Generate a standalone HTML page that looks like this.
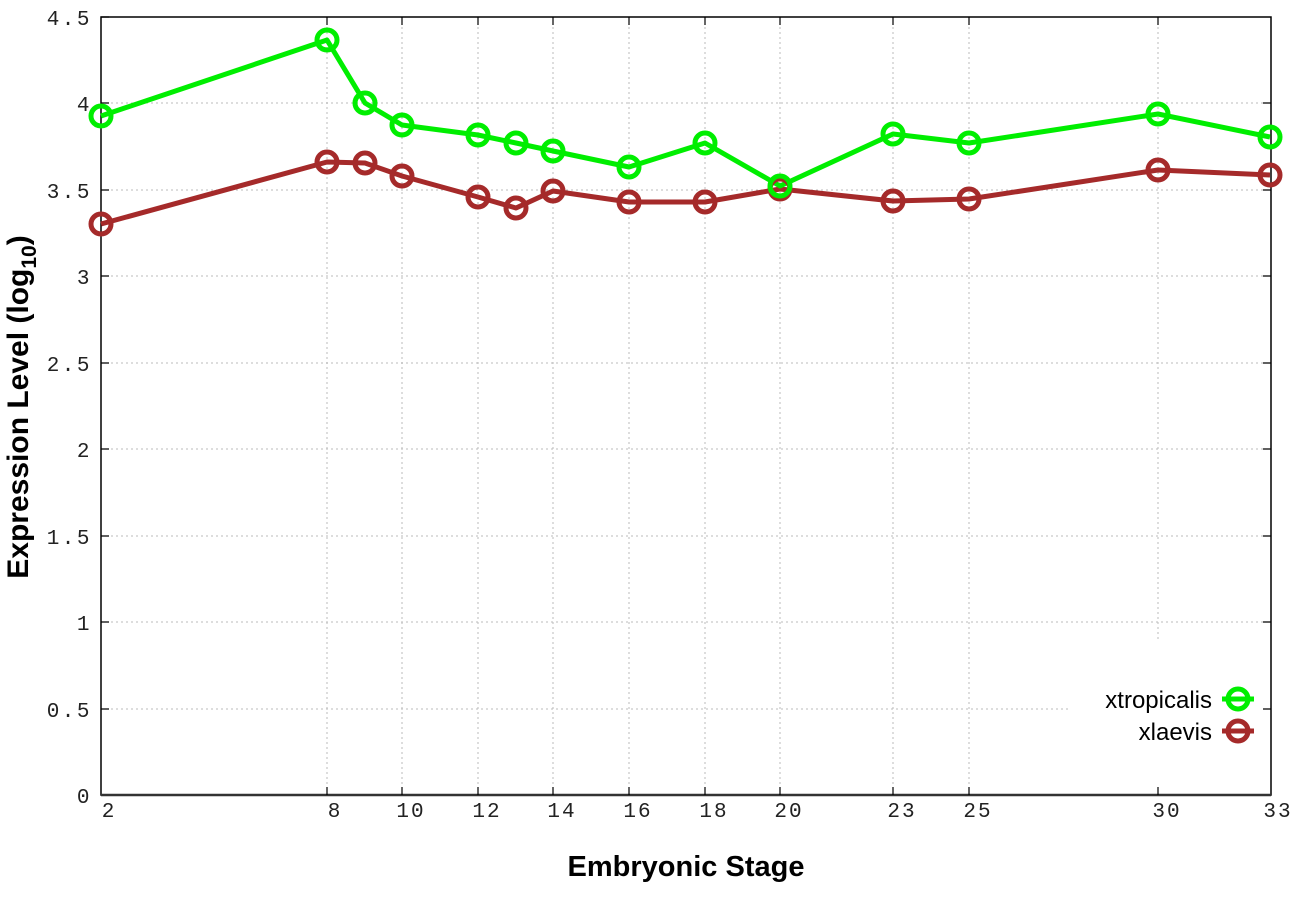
<!DOCTYPE html>
<html><head><meta charset="utf-8"><style>body{margin:0;background:#fff}svg{display:block}</style></head>
<body>
<svg width="1296" height="907" viewBox="0 0 1296 907" xmlns="http://www.w3.org/2000/svg">
<rect width="1296" height="907" fill="#fff"/>
<g stroke="#bbb" stroke-width="1" stroke-dasharray="2,3">
<line x1="101" y1="709" x2="1070" y2="709"/>
<line x1="101" y1="622" x2="1270" y2="622"/>
<line x1="101" y1="536" x2="1270" y2="536"/>
<line x1="101" y1="449" x2="1270" y2="449"/>
<line x1="101" y1="363" x2="1270" y2="363"/>
<line x1="101" y1="276" x2="1270" y2="276"/>
<line x1="101" y1="190" x2="1270" y2="190"/>
<line x1="101" y1="103" x2="1270" y2="103"/>
<line x1="327" y1="17" x2="327" y2="795"/>
<line x1="402" y1="17" x2="402" y2="795"/>
<line x1="478" y1="17" x2="478" y2="795"/>
<line x1="553" y1="17" x2="553" y2="795"/>
<line x1="629" y1="17" x2="629" y2="795"/>
<line x1="705" y1="17" x2="705" y2="795"/>
<line x1="780" y1="17" x2="780" y2="795"/>
<line x1="893" y1="17" x2="893" y2="795"/>
<line x1="969" y1="17" x2="969" y2="795"/>
<line x1="1158" y1="17" x2="1158" y2="640"/>
</g>
<rect x="101" y="17" width="1170" height="778" fill="none" stroke="#000" stroke-width="1.5"/>
<line x1="101" y1="795" x2="1271" y2="795" stroke="#333" stroke-width="2.5"/>
<g stroke="#000" stroke-width="1.2">
<path d="M101 709h8M101 622h8M101 536h8M101 449h8M101 363h8M101 276h8M101 190h8M101 103h8M101 17h8"/>
<path d="M1271 709h-8M1271 622h-8M1271 536h-8M1271 449h-8M1271 363h-8M1271 276h-8M1271 190h-8M1271 103h-8"/>
<path d="M327 795v-8M402 795v-8M478 795v-8M553 795v-8M629 795v-8M705 795v-8M780 795v-8M893 795v-8M969 795v-8M1158 795v-8"/>
<path d="M327 17v8M402 17v8M478 17v8M553 17v8M629 17v8M705 17v8M780 17v8M893 17v8M969 17v8M1158 17v8"/>
</g>
<g font-family="Liberation Mono, monospace" font-size="21" fill="#222" text-anchor="end" letter-spacing="2.5">
<text x="92" y="803">0</text><text x="92" y="717">0.5</text><text x="92" y="630">1</text>
<text x="92" y="544">1.5</text><text x="92" y="457">2</text><text x="92" y="371">2.5</text>
<text x="92" y="284">3</text><text x="92" y="198">3.5</text><text x="92" y="111">4</text><text x="92" y="25">4.5</text>
</g>
<g font-family="Liberation Mono, monospace" font-size="21" fill="#222" text-anchor="middle" letter-spacing="2">
<text x="109" y="817">2</text><text x="335" y="817">8</text><text x="411" y="817">10</text>
<text x="487" y="817">12</text><text x="562" y="817">14</text>
<text x="638" y="817">16</text><text x="714" y="817">18</text><text x="789" y="817">20</text>
<text x="902" y="817">23</text><text x="978" y="817">25</text><text x="1167" y="817">30</text><text x="1278" y="817">33</text>
</g>
<text x="686" y="876" font-family="Liberation Sans, sans-serif" font-size="29" font-weight="bold" text-anchor="middle">Embryonic Stage</text>
<text transform="translate(28,407) rotate(-90)" font-family="Liberation Sans, sans-serif" font-size="30" font-weight="bold" text-anchor="middle">Expression Level (log<tspan font-size="21" dy="8">10</tspan><tspan dy="-8">)</tspan></text>
<g fill="none" stroke-width="5" stroke-linejoin="round">
<polyline stroke="#a52a2a" points="101,224 327,162 365,163 402,176 478,197 516,208 553,191 629,202 705,202 780,189 893,201 969,199 1158,170 1270,175"/>
<polyline stroke="#00ee00" points="101,116 327,40 365,103 402,125 478,135 516,143 553,151 629,167 705,143 780,186 893,134 969,143 1158,114 1270,137"/>
<g stroke="#a52a2a">
<circle cx="101" cy="224" r="10"/><circle cx="327" cy="162" r="10"/><circle cx="365" cy="163" r="10"/><circle cx="402" cy="176" r="10"/><circle cx="478" cy="197" r="10"/><circle cx="516" cy="208" r="10"/><circle cx="553" cy="191" r="10"/><circle cx="629" cy="202" r="10"/><circle cx="705" cy="202" r="10"/><circle cx="780" cy="189" r="10"/><circle cx="893" cy="201" r="10"/><circle cx="969" cy="199" r="10"/><circle cx="1158" cy="170" r="10"/><circle cx="1270" cy="175" r="10"/>
</g>
<g stroke="#00ee00">
<circle cx="101" cy="116" r="10"/><circle cx="327" cy="40" r="10"/><circle cx="365" cy="103" r="10"/><circle cx="402" cy="125" r="10"/><circle cx="478" cy="135" r="10"/><circle cx="516" cy="143" r="10"/><circle cx="553" cy="151" r="10"/><circle cx="629" cy="167" r="10"/><circle cx="705" cy="143" r="10"/><circle cx="780" cy="186" r="10"/><circle cx="893" cy="134" r="10"/><circle cx="969" cy="143" r="10"/><circle cx="1158" cy="114" r="10"/><circle cx="1270" cy="137" r="10"/>
</g>
<line x1="1222" y1="699" x2="1254" y2="699" stroke="#00ee00"/><circle cx="1238" cy="699" r="10" stroke="#00ee00"/>
<line x1="1222" y1="731" x2="1254" y2="731" stroke="#a52a2a"/><circle cx="1238" cy="731" r="10" stroke="#a52a2a"/>
</g>
<g font-family="Liberation Sans, sans-serif" font-size="24" fill="#000" text-anchor="end">
<text x="1212" y="708">xtropicalis</text>
<text x="1212" y="740">xlaevis</text>
</g>
</svg>
</body></html>
